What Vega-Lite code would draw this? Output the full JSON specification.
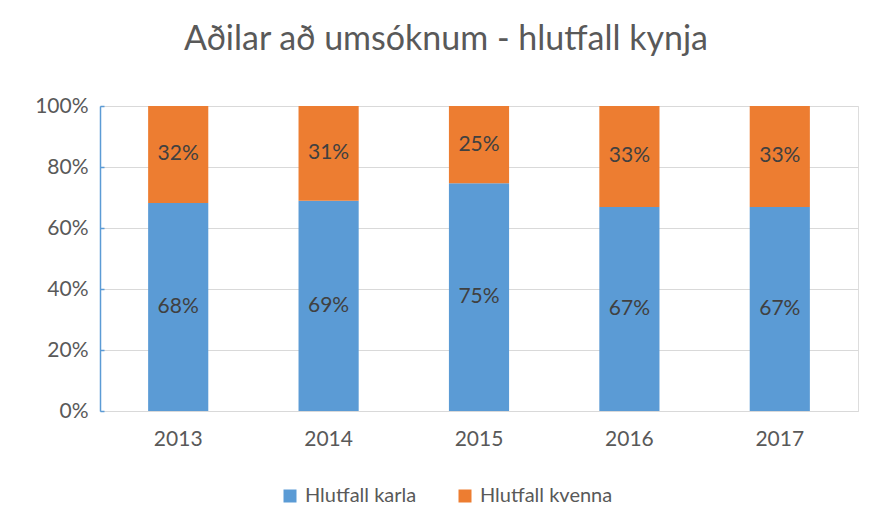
{
  "$schema": "https://vega.github.io/schema/vega-lite/v6.json",
  "width": 758,
  "height": 305,
  "autosize": {"type": "none"},
  "padding": {"left": 100, "top": 106, "right": 18, "bottom": 121},
  "background": "white",
  "title": {
    "text": "Aðilar að umsóknum - hlutfall kynja",
    "font": "Lato",
    "fontSize": 34,
    "fontWeight": "normal",
    "color": "#595959",
    "anchor": "middle",
    "dx": -33,
    "offset": 38
  },
  "data": {
    "values": [
      {"year": "2013", "group": "Hlutfall karla", "value": 0.682},
      {"year": "2013", "group": "Hlutfall kvenna", "value": 0.318},
      {"year": "2014", "group": "Hlutfall karla", "value": 0.689},
      {"year": "2014", "group": "Hlutfall kvenna", "value": 0.311},
      {"year": "2015", "group": "Hlutfall karla", "value": 0.747},
      {"year": "2015", "group": "Hlutfall kvenna", "value": 0.253},
      {"year": "2016", "group": "Hlutfall karla", "value": 0.669},
      {"year": "2016", "group": "Hlutfall kvenna", "value": 0.331},
      {"year": "2017", "group": "Hlutfall karla", "value": 0.669},
      {"year": "2017", "group": "Hlutfall kvenna", "value": 0.331}
    ]
  },
  "transform": [
    {"calculate": "datum.group === 'Hlutfall karla' ? 0 : 1", "as": "ord"},
    {"stack": "value", "groupby": ["year"], "sort": [{"field": "ord", "order": "ascending"}], "as": ["v0", "v1"]},
    {"calculate": "(datum.v0 + datum.v1) / 2", "as": "mid"}
  ],
  "encoding": {
    "x": {
      "field": "year",
      "type": "nominal",
      "title": null,
      "scale": {"paddingInner": 0.6, "paddingOuter": 0.32},
      "axis": {
        "labelAngle": 0,
        "labelFont": "Lato",
        "labelFontSize": 21,
        "labelColor": "#595959",
        "labelPadding": 17,
        "ticks": false,
        "domainColor": "#D9D9D9",
        "grid": false
      }
    }
  },
  "layer": [
    {
      "mark": {"type": "bar"},
      "encoding": {
        "y": {
          "field": "v0",
          "type": "quantitative",
          "scale": {"domain": [0, 1]},
          "title": null,
          "axis": {
            "values": [0, 0.2, 0.4, 0.6, 0.8, 1],
            "format": ".0%",
            "labelFont": "Lato",
            "labelFontSize": 21,
            "labelColor": "#595959",
            "labelPadding": 16,
            "ticks": true,
            "tickSize": -4,
            "tickColor": "#5B9BD5",
            "tickWidth": 1.5,
            "domain": true,
            "domainColor": "#5B9BD5",
            "domainWidth": 1.5,
            "gridColor": "#D9D9D9"
          }
        },
        "y2": {"field": "v1"},
        "color": {
          "field": "group",
          "type": "nominal",
          "scale": {"domain": ["Hlutfall karla", "Hlutfall kvenna"], "range": ["#5B9BD5", "#ED7D31"]},
          "legend": {
            "title": null,
            "orient": "none",
            "legendX": 180,
            "legendY": 380,
            "direction": "horizontal",
            "symbolType": "square",
            "symbolSize": 169,
            "symbolStrokeWidth": 0,
            "symbolOffset": 0,
            "labelOffset": 5,
            "labelFont": "Lato",
            "labelFontSize": 20,
            "labelColor": "#595959",
            "columnPadding": 38
          }
        }
      }
    },
    {
      "mark": {"type": "text", "font": "Lato", "fontSize": 21, "color": "#404040", "baseline": "middle"},
      "encoding": {
        "y": {"field": "mid", "type": "quantitative"},
        "text": {"field": "value", "type": "quantitative", "format": ".0%"}
      }
    }
  ]
}
